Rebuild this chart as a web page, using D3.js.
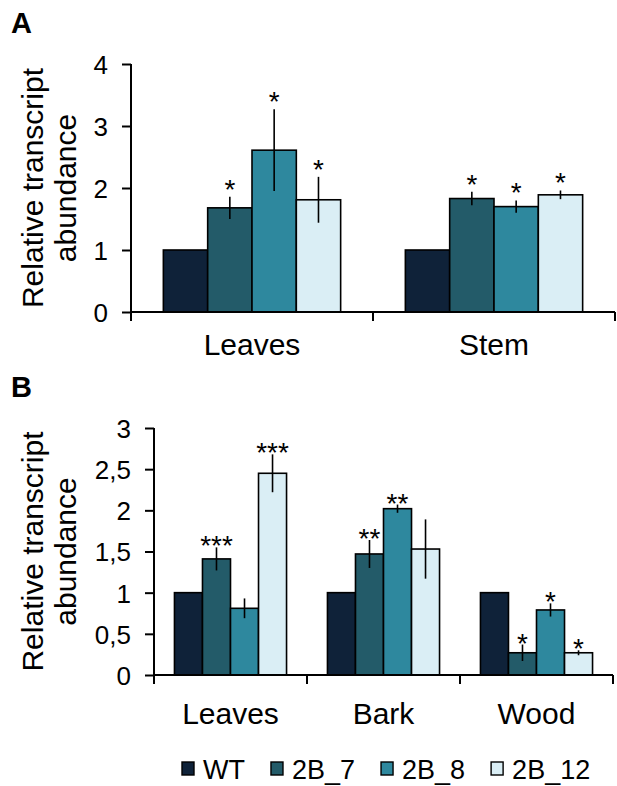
<!DOCTYPE html>
<html>
<head>
<meta charset="utf-8">
<title>relative transcript abundance</title>
<script src="https://cdn.jsdelivr.net/npm/d3@7"></script>
<style>
  html, body { margin: 0; padding: 0; background: #fff; }
  svg { display: block; font-family: 'Liberation Sans', Arial, sans-serif; }
  .axis path, .axis line { stroke: #000; stroke-width: 2; }
  .axis text { fill: #000; }
</style>
</head>
<body>
<svg id="chart" width="617" height="786"></svg>
<script>
// lines (legend order)
var series = ['WT', '2B_7', '2B_8', '2B_12'];
var colors = ['#0f2239', '#235b69', '#2e889e', '#daeef5'];

// panel A
var tissuesA = ['Leaves', 'Stem'];
var valuesA = [
  [1, 1.68, 2.61, 1.81],
  [1, 1.83, 1.70, 1.89]
];
var errorsA = [
  [0, 0.18, 0.66, 0.37],
  [0, 0.11, 0.10, 0.07]
];
var starsA = [
  ['', '*', '*', '*'],
  ['', '*', '*', '*']
];
var ticksA = [0, 1, 2, 3, 4];

// panel B
var tissuesB = ['Leaves', 'Bark', 'Wood'];
var valuesB = [
  [1, 1.41, 0.81, 2.45],
  [1, 1.47, 2.02, 1.53],
  [1, 0.27, 0.79, 0.27]
];
var errorsB = [
  [0, 0.14, 0.12, 0.23],
  [0, 0.17, 0.05, 0.36],
  [0, 0.10, 0.08, 0.03]
];
var starsB = [
  ['', '***', '', '***'],
  ['', '**', '**', ''],
  ['', '*', '*', '*']
];
var ticksB = [0, 0.5, 1, 1.5, 2, 2.5, 3];

var svg = d3.select('#chart');
var commaFmt = d3.formatLocale({decimal: ',', thousands: '.', grouping: [3], currency: ['', '']}).format('~g');

function drawPanel(opt) {
  var g = svg.append('g');

  var x = d3.scaleBand().domain(opt.tissues).range([opt.left, opt.right]).padding(0);
  var xs = d3.scaleBand().domain(series).range([0, x.bandwidth()]).paddingInner(0).paddingOuter(0.73);
  var y = d3.scaleLinear().domain([0, opt.max]).range([opt.bottom, opt.top]);
  var color = d3.scaleOrdinal().domain(series).range(colors);

  // bars
  opt.tissues.forEach(function (t, i) {
    var grp = g.append('g').attr('transform', 'translate(' + x(t) + ',0)');
    series.forEach(function (s, j) {
      var v = opt.values[i][j], e = opt.errors[i][j];
      grp.append('rect')
        .attr('x', xs(s))
        .attr('y', y(v))
        .attr('width', xs.bandwidth())
        .attr('height', y(0) - y(v))
        .attr('fill', color(s))
        .attr('stroke', '#000')
        .attr('stroke-width', 1.6);
      var cx = xs(s) + xs.bandwidth() / 2;
      if (e > 0) {
        grp.append('line')
          .attr('x1', cx).attr('x2', cx)
          .attr('y1', y(v + e)).attr('y2', y(v - e))
          .attr('stroke', '#000').attr('stroke-width', 1.6);
      }
      if (opt.stars[i][j]) {
        grp.append('text')
          .attr('x', cx)
          .attr('y', y(v + e) + opt.starShift)
          .attr('text-anchor', 'middle')
          .attr('font-size', opt.starSize)
          .text(opt.stars[i][j]);
      }
    });
  });

  // y axis
  var ya = g.append('g').attr('class', 'axis')
    .attr('transform', 'translate(' + opt.left + ',0)')
    .call(d3.axisLeft(y).tickValues(opt.ticks).tickSize(9).tickPadding(14).tickSizeOuter(0).tickFormat(opt.fmt));
  ya.select('.domain').attr('d', 'M0,' + opt.top + 'V' + (opt.bottom + 9));
  ya.selectAll('text').attr('font-size', 26).attr('dy', '0.36em');

  // x axis: line, edge ticks, labels centred
  var xa = g.append('g').attr('class', 'axis')
    .attr('transform', 'translate(0,' + opt.bottom + ')');
  xa.append('line').attr('x1', opt.left).attr('x2', opt.right).attr('y1', 0).attr('y2', 0);
  xa.selectAll('.edge').data(opt.tissues).enter().append('line')
    .attr('class', 'edge')
    .attr('x1', function (d) { return x(d) + x.bandwidth(); })
    .attr('x2', function (d) { return x(d) + x.bandwidth(); })
    .attr('y1', 0).attr('y2', 9);
  xa.selectAll('.lbl').data(opt.tissues).enter().append('text')
    .attr('class', 'lbl')
    .attr('x', function (d) { return x(d) + x.bandwidth() / 2; })
    .attr('y', opt.labelDy)
    .attr('text-anchor', 'middle')
    .attr('font-size', 30)
    .text(function (d) { return d; });

  // y title
  var mid = (opt.top + opt.bottom) / 2;
  var yt = g.append('text')
    .attr('transform', 'translate(0,' + mid + ') rotate(-90)')
    .attr('text-anchor', 'middle')
    .attr('font-size', 30);
  yt.append('tspan').attr('x', 0).attr('y', 43).text('Relative transcript');
  yt.append('tspan').attr('x', 0).attr('y', 76).text('abundance');

  // panel letter
  g.append('text')
    .attr('x', 11).attr('y', opt.letterY)
    .attr('font-size', 29).attr('font-weight', 'bold')
    .text(opt.letter);
}

drawPanel({
  letter: 'A', letterY: 33,
  tissues: tissuesA, values: valuesA, errors: errorsA, stars: starsA,
  ticks: ticksA, max: 4, fmt: d3.format('d'),
  left: 131, right: 615, top: 64, bottom: 312,
  labelDy: 43, starShift: 2, starSize: 28
});

drawPanel({
  letter: 'B', letterY: 397,
  tissues: tissuesB, values: valuesB, errors: errorsB, stars: starsB,
  ticks: ticksB, max: 3, fmt: commaFmt,
  left: 154, right: 613, top: 428, bottom: 675,
  labelDy: 49, starShift: 8, starSize: 28
});

// legend
var leg = svg.append('g').attr('transform', 'translate(182,779)');
var cursor = 0;
series.forEach(function (s, i) {
  var item = leg.append('g').attr('transform', 'translate(' + cursor + ',0)');
  item.append('rect')
    .attr('x', 0).attr('y', -17)
    .attr('width', 12).attr('height', 13)
    .attr('fill', colors[i])
    .attr('stroke', '#000').attr('stroke-width', 1.4);
  var t = item.append('text')
    .attr('x', 21).attr('y', 0)
    .attr('font-size', 27)
    .text(s);
  cursor += 21 + t.node().getComputedTextLength() + 26;
});
</script>
</body>
</html>
